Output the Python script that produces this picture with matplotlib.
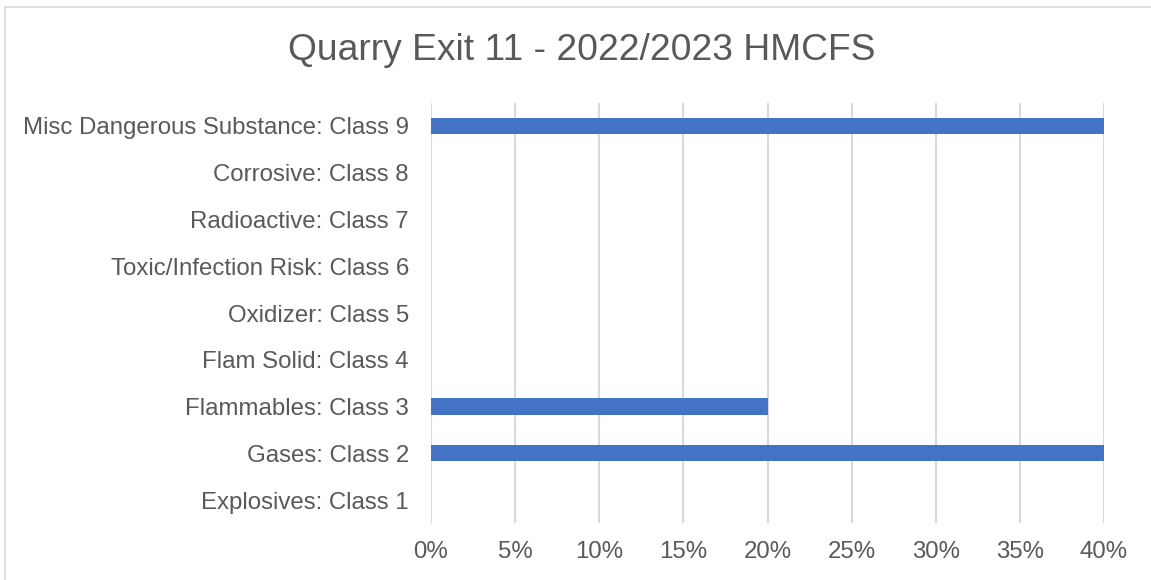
import numpy as np
import matplotlib.pyplot as plt
from matplotlib.patches import Rectangle
from matplotlib.ticker import PercentFormatter

# chart data
categories = ['Explosives: Class 1', 'Gases: Class 2', 'Flammables: Class 3',
              'Flam Solid: Class 4', 'Oxidizer: Class 5', 'Toxic/Infection Risk: Class 6',
              'Radioactive: Class 7', 'Corrosive: Class 8', 'Misc Dangerous Substance: Class 9']
shares = [0.0, 0.40, 0.20, 0.0, 0.0, 0.0, 0.0, 0.0, 0.40]
xticks = [0.0, 0.05, 0.10, 0.15, 0.20, 0.25, 0.30, 0.35, 0.40]
title = 'Quarry Exit 11 - 2022/2023 HMCFS'

textColor = '#595959'
barColor = '#4472C4'
gridColor = '#d9d9d9'

plt.rcParams['font.family'] = ['Liberation Sans', 'DejaVu Sans']

fig = plt.figure(figsize=(11.51, 5.80), dpi=100)
ax = fig.add_axes([431/1151, 1 - 523.4/580, (1104 - 431)/1151, (523.4 - 102.6)/580])

# outer chart border
fig.patches.append(Rectangle((5/1151, -0.05), 1.2, 1 - 7/580 + 0.05, transform=fig.transFigure,
                             fill=False, edgecolor=gridColor, linewidth=1.2))

y = np.arange(len(categories))
ax.barh(y, shares, height=0.35, color=barColor, zorder=3)

ax.set_xlim(0, 0.40)
ax.set_ylim(-0.5, len(categories) - 0.5)
ax.set_xticks(xticks)
ax.xaxis.set_major_formatter(PercentFormatter(1.0, decimals=0))
ax.set_yticks(y)
ax.set_yticklabels(categories)

ax.grid(axis='x', color=gridColor, linewidth=1.5, zorder=0)
ax.tick_params(axis='both', length=0, labelsize=17.3, colors=textColor)
ax.tick_params(axis='y', pad=16)
ax.tick_params(axis='x', pad=13)
for s in ax.spines.values():
    s.set_visible(False)

fig.text(582/1151, 1 - 50/580, title, ha='center', va='center', fontsize=26.8, color=textColor)

plt.savefig('out.png', dpi=100)
